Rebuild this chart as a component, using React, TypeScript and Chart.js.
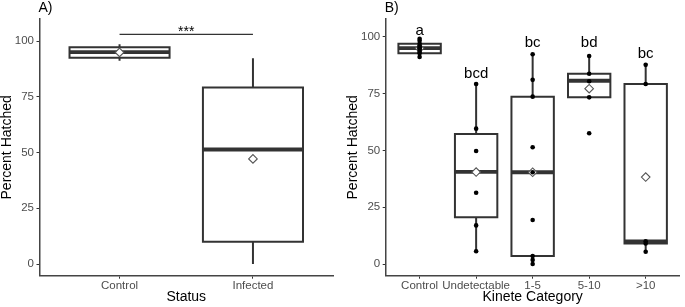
import React, { useEffect, useRef } from 'react';
import { Chart, registerables } from 'chart.js';

Chart.register(...registerables);

const FONT = '"Liberation Sans", Arial, Helvetica, sans-serif';

// ---- Panel A: Status ----
const statusCategories = ['Control', 'Infected'];
const statusLower = [91.3, 0.0];
const statusQ1 = [92.6, 10.0];
const statusMedian = [95.1, 51.4];
const statusQ3 = [97.3, 79.3];
const statusUpper = [98.7, 92.4];
const statusMean = [95.0, 47.2];
const sigBarY = 103.1;
const sigLabel = '***';

// ---- Panel B: Kinete Category ----
const kineteCategories = ['Control', 'Undetectable', '1-5', '5-10', '>10'];
const kineteLower = [91.2, 5.6, 0.0, 73.4, 5.4];
const kineteQ1 = [92.8, 20.6, 3.5, 73.4, 9.0];
const kineteMedian = [95.1, 40.6, 40.4, 80.7, 10.0];
const kineteQ3 = [97.0, 57.2, 73.7, 83.8, 79.3];
const kineteUpper = [99.2, 79.3, 92.4, 91.6, 87.7];
const kineteMean = [95.0, 40.5, 40.4, 77.2, 38.3];
const pointsControl = [99.2, 98.3, 97.0, 96.0, 95.5, 95.0, 94.5, 93.5, 92.8, 91.2];
const pointsUndetectable = [79.3, 59.6, 49.8, 31.4, 17.0, 5.6];
const points1to5 = [92.4, 81.1, 73.7, 51.4, 40.4, 19.4, 3.5, 1.8, 0.0];
const points5to10 = [91.6, 83.8, 80.5, 73.4, 57.6];
const pointsOver10 = [87.7, 79.3, 10.0, 9.0, 5.4];
const kineteLetters = ['a', 'bcd', 'bc', 'bd', 'bc'];
const kineteLetterY = [100.9, 81.8, 95.5, 95.5, 90.6];

const yTicks = [0, 25, 50, 75, 100];

const LINE = '#333333';
const HALF_BOX = 0.375;

function boxDatasets(
  lower: number[], q1: number[], median: number[], q3: number[], upper: number[], mean: number[],
  points: number[][] | null
) {
  const ds: any[] = [];
  q1.forEach((_, i) => {
    const x = i + 1;
    ds.push({
      type: 'line', showLine: true, order: 6,
      data: [{ x, y: lower[i] }, { x, y: q1[i] }, { x, y: null }, { x, y: q3[i] }, { x, y: upper[i] }],
      borderColor: LINE, borderWidth: 2, pointRadius: 0, spanGaps: false,
    });
    ds.push({
      type: 'line', showLine: true, order: 5,
      data: [
        { x: x - HALF_BOX, y: q1[i] }, { x: x + HALF_BOX, y: q1[i] },
        { x: x + HALF_BOX, y: q3[i] }, { x: x - HALF_BOX, y: q3[i] },
        { x: x - HALF_BOX, y: q1[i] },
      ],
      borderColor: LINE, borderWidth: 2, pointRadius: 0, fill: false,
      borderJoinStyle: 'miter', borderCapStyle: 'square',
    });
    ds.push({
      type: 'line', showLine: true, order: 4,
      data: [{ x: x - HALF_BOX, y: median[i] }, { x: x + HALF_BOX, y: median[i] }],
      borderColor: LINE, borderWidth: 3.8, pointRadius: 0, borderCapStyle: 'butt',
    });
  });
  ds.push({
    type: 'scatter', order: 3,
    data: mean.map((m, i) => ({ x: i + 1, y: m })),
    pointStyle: 'rectRot', pointRadius: 4.3, backgroundColor: '#ffffff',
    borderColor: '#555555', borderWidth: 1.1, pointHoverRadius: 4.3,
  });
  if (points) {
    const pts: { x: number; y: number }[] = [];
    points.forEach((arr, i) => arr.forEach((v) => pts.push({ x: i + 1, y: v })));
    ds.push({
      type: 'scatter', order: 1, data: pts,
      pointStyle: 'circle', pointRadius: 2.3, backgroundColor: '#000000',
      borderWidth: 0, pointHoverRadius: 2.3,
    });
  }
  return ds;
}

type TextItem = { x: number; y: number; text: string; size: number; dy?: number };

function makeConfig(p: {
  categories: string[]; datasets: any[]; yMin: number; yMax: number;
  axisWidth: number; padRight: number; yTitle: string; xTitle: string;
  panel: string; texts: TextItem[]; yTitlePad: number;
}) {
  const textPlugin = {
    id: 'texts' + p.panel,
    afterDatasetsDraw(chart: any) {
      const { ctx, scales, chartArea } = chart;
      ctx.save();
      ctx.fillStyle = '#000000';
      ctx.textAlign = 'center';
      ctx.textBaseline = 'alphabetic';
      p.texts.forEach((t) => {
        ctx.font = `${t.size}px ${FONT}`;
        ctx.fillText(t.text, scales.x.getPixelForValue(t.x), scales.y.getPixelForValue(t.y) + (t.dy || 0));
      });
      ctx.textAlign = 'left';
      ctx.font = `14px ${FONT}`;
      ctx.fillText(p.panel, chartArea.left - 1, 11.5);
      ctx.restore();
    },
  };
  const tickFont = { family: FONT, size: 11.5, lineHeight: 1.2 };
  const titleFont = { family: FONT, size: 14, lineHeight: 1 };
  return {
    type: 'scatter',
    data: { datasets: p.datasets },
    plugins: [textPlugin],
    options: {
      animation: false,
      responsive: false,
      devicePixelRatio: 1,
      events: [],
      layout: { padding: { top: 19, right: p.padRight, bottom: 0, left: 0 } },
      plugins: { legend: { display: false }, tooltip: { enabled: false }, title: { display: false } },
      scales: {
        x: {
          type: 'linear', min: 0.4, max: p.categories.length + 0.6,
          afterBuildTicks: (s: any) => { s.ticks = p.categories.map((_, i) => ({ value: i + 1 })); },
          afterFit: (s: any) => { s.height = 31.3; },
          ticks: {
            callback: (v: any) => p.categories[Math.round(v) - 1] ?? '',
            color: '#4d4d4d', font: tickFont, padding: 0, maxRotation: 0, autoSkip: false,
          },
          grid: { display: true, drawOnChartArea: false, drawTicks: true, tickLength: 3, color: LINE, lineWidth: 1 },
          border: { display: true, color: '#444444', width: 1.5 },
          title: { display: true, text: p.xTitle, color: '#000000', font: titleFont, padding: { top: 0, bottom: 2.5 } },
        },
        y: {
          type: 'linear', min: p.yMin, max: p.yMax,
          afterBuildTicks: (s: any) => { s.ticks = yTicks.map((v) => ({ value: v })); },
          afterFit: (s: any) => { s.width = p.axisWidth; },
          ticks: { color: '#4d4d4d', font: tickFont, padding: 2.5 },
          grid: { display: true, drawOnChartArea: false, drawTicks: true, tickLength: 3, color: LINE, lineWidth: 1 },
          border: { display: true, color: '#444444', width: 1.5 },
          title: { display: true, text: p.yTitle, color: '#000000', font: titleFont, padding: { top: p.yTitlePad, bottom: 0 } },
        },
      },
    },
  };
}

export default function App() {
  const refA = useRef<HTMLCanvasElement>(null);
  const refB = useRef<HTMLCanvasElement>(null);

  useEffect(() => {
    document.body.style.margin = '0';
    const dsA = boxDatasets(statusLower, statusQ1, statusMedian, statusQ3, statusUpper, statusMean, null);
    dsA.push({
      type: 'line', showLine: true, order: 2,
      data: [{ x: 1, y: sigBarY }, { x: 2, y: sigBarY }],
      borderColor: LINE, borderWidth: 1.3, pointRadius: 0,
    });
    const cfgA = makeConfig({
      categories: statusCategories, datasets: dsA, yMin: -5.25, yMax: 110,
      axisWidth: 39.5, padRight: 7, yTitle: 'Percent Hatched', xTitle: 'Status', panel: 'A)',
      texts: [{ x: 1.5, y: sigBarY, text: sigLabel, size: 14, dy: 1.5 }], yTitlePad: 0,
    });
    const dsB = boxDatasets(kineteLower, kineteQ1, kineteMedian, kineteQ3, kineteUpper, kineteMean,
      [pointsControl, pointsUndetectable, points1to5, points5to10, pointsOver10]);
    const cfgB = makeConfig({
      categories: kineteCategories, datasets: dsB, yMin: -5.15, yMax: 107.9,
      axisWidth: 40.7, padRight: 0.7, yTitle: 'Percent Hatched', xTitle: 'Kinete Category', panel: 'B)',
      texts: kineteLetters.map((t, i) => ({ x: i + 1, y: kineteLetterY[i], text: t, size: 15 })), yTitlePad: 1.3,
    });
    const a = new Chart(refA.current as HTMLCanvasElement, cfgA as any);
    const b = new Chart(refB.current as HTMLCanvasElement, cfgB as any);
    return () => { a.destroy(); b.destroy(); };
  }, []);

  return (
    <div style={{ position: 'relative', width: 685, height: 307, background: '#ffffff' }}>
      <canvas ref={refA} width={340} height={307} style={{ position: 'absolute', left: 0, top: 0, width: 340, height: 307 }} />
      <canvas ref={refB} width={340} height={307} style={{ position: 'absolute', left: 345, top: 0, width: 340, height: 307 }} />
    </div>
  );
}
